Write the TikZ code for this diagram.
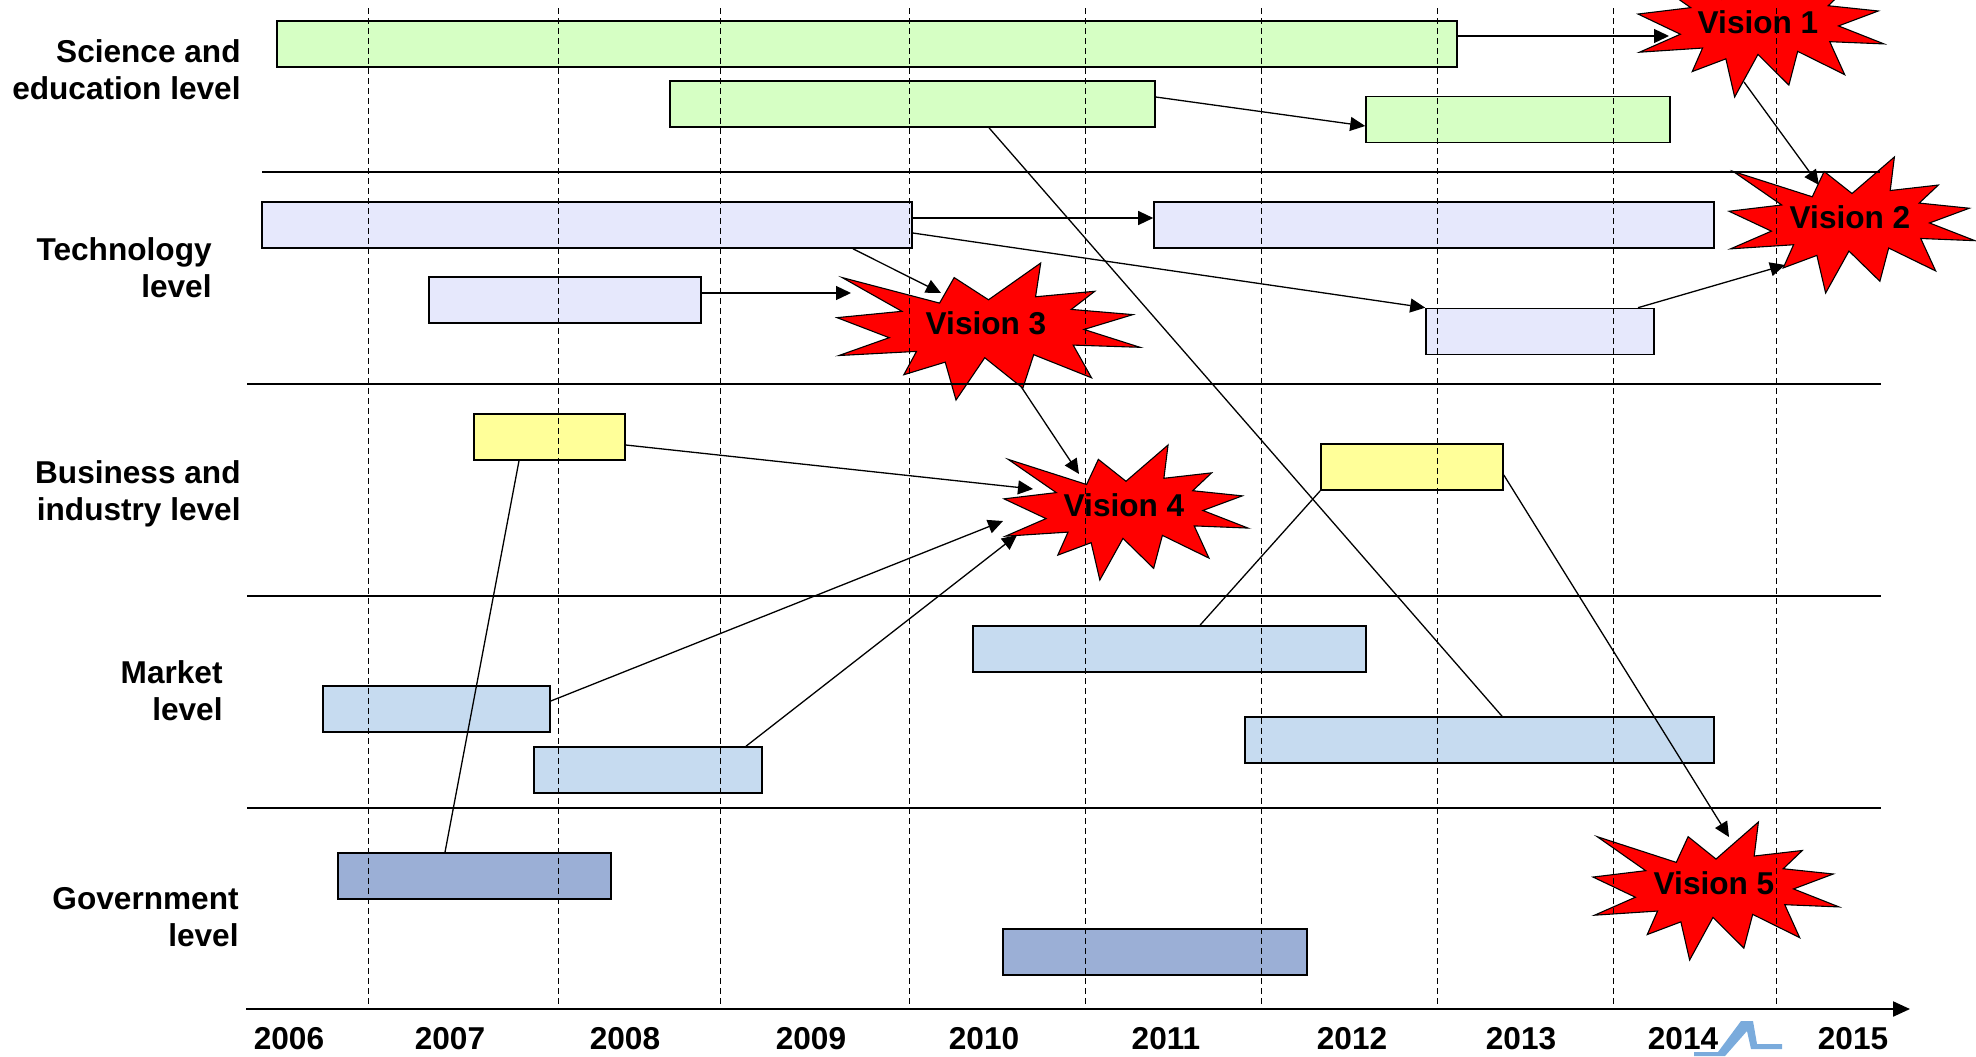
\documentclass[tikz,border=0pt]{standalone}
\usepackage{fontspec}
\setmainfont{Liberation Sans}
\usepackage{tikz}
\usetikzlibrary{arrows.meta,calc}

\definecolor{sciGreen}{RGB}{214,255,196}
\definecolor{techLav}{RGB}{230,232,252}
\definecolor{busYellow}{RGB}{255,255,153}
\definecolor{mktBlue}{RGB}{198,219,240}
\definecolor{govBlue}{RGB}{155,175,214}
\definecolor{logoBlue}{RGB}{122,171,220}

\tikzset{
  bar/.style={draw=black, line width=0.8pt, minimum height=23pt, inner sep=0pt},
  scibar/.style={bar, fill=sciGreen},
  techbar/.style={bar, fill=techLav},
  busbar/.style={bar, fill=busYellow},
  mktbar/.style={bar, fill=mktBlue},
  govbar/.style={bar, fill=govBlue},
  link/.style={line width=0.65pt, -{Triangle[length=7.5pt,width=7pt]}},
  tie/.style={line width=0.65pt},
  levelsep/.style={line width=0.9pt},
  yearline/.style={line width=0.5pt, dash pattern=on 3pt off 2pt},
  boldtext/.style={font=\fontsize{15.8}{18.5}\selectfont\bfseries, inner sep=0pt},
  lvllabel/.style={boldtext, align=right, anchor=east},
  yearlabel/.style={boldtext},
  vtext/.style={boldtext},
  visionstar/.pic={
    \draw[fill=red, line width=0.55pt, line join=miter]
      (0.5,0.2685) -- (0.6723,0) -- (0.6553,0.2465) -- (0.8509,0.2063) --
      (0.7732,0.3387) -- (0.9767,0.3767) -- (0.8151,0.4850) -- (1,0.6153) --
      (0.7795,0.5992) -- (0.8400,0.8377) -- (0.6491,0.6693) -- (0.6133,0.9138) --
      (0.4876,0.6914) -- (0.3928,1) -- (0.3572,0.7235) -- (0.2205,0.8156) --
      (0.2624,0.6452) -- (0.0063,0.6753) -- (0.1723,0.5451) -- (0,0.3988) --
      (0.2142,0.3526) -- (0.0171,0.1063) -- (0.3385,0.2926) -- (0.3867,0.1063) -- cycle;
  }
}

\begin{document}
\begin{tikzpicture}[x=0.5pt,y=0.5pt,yscale=-1,xscale=1]
\useasboundingbox (0,0) rectangle (1976,1056);
\clip (0,0) rectangle (1976,1056);

%Bars: science and education level
\node[scibar, minimum width=590pt] (sci1) at (867,44) {};
\node[scibar, minimum width=242.5pt] (sci2) at (912.5,104) {};
\node[scibar, minimum width=152pt] (sci3) at (1518,119.5) {};
%Bars: technology level
\node[techbar, minimum width=325pt] (tec1) at (587,225) {};
\node[techbar, minimum width=136pt] (tec2) at (565,300) {};
\node[techbar, minimum width=280pt] (tec3) at (1434,225) {};
\node[techbar, minimum width=114pt] (tec4) at (1540,331.5) {};
%Bars: business and industry level
\node[busbar, minimum width=75.5pt] (bus1) at (549.5,437) {};
\node[busbar, minimum width=91pt] (bus2) at (1412,467) {};
%Bars: market level
\node[mktbar, minimum width=113.5pt] (mkt1) at (436.5,709) {};
\node[mktbar, minimum width=114pt] (mkt2) at (648,770) {};
\node[mktbar, minimum width=196.5pt] (mkt3) at (1169.5,649) {};
\node[mktbar, minimum width=234.5pt] (mkt4) at (1479.5,740) {};
%Bars: government level
\node[govbar, minimum width=136.5pt] (gov1) at (474.5,876) {};
\node[govbar, minimum width=152pt] (gov2) at (1155,952) {};

%Ends of the arrows at the visions
\coordinate (v1in) at (1669,36);
\coordinate (v1out) at (1744,82);
\coordinate (v2in1) at (1819,185);
\coordinate (v2in2) at (1785,265);
\coordinate (v3in1) at (941,293);
\coordinate (v3in2) at (851,293);
\coordinate (v3out) at (1020,385);
\coordinate (v4in1) at (1079,474);
\coordinate (v4in2) at (1033,489);
\coordinate (v4in3) at (1003,521);
\coordinate (v4in4) at (1017,535);
\coordinate (v5in) at (1729,837);

%Connectors
\draw[link] (sci1.east |- v1in) -- (v1in);
\draw[link] ($(sci2.east)+(0,-7)$) -- ($(sci3.west)+(0,6.5)$);
\draw[tie] ($(sci2.south)+(76.5,0)$) -- ($(mkt4.north)+(22.5,0)$);
\draw[link] (v1out) -- (v2in1);
\draw[link] ($(tec1.east)+(0,-7)$) -- ($(tec3.west)+(0,-7)$);
\draw[link] ($(tec1.east)+(0,8)$) -- (tec4.north west);
\draw[link] ($(tec1.south)+(266,0)$) -- (v3in1);
\draw[link] ($(tec2.east)+(0,-7)$) -- (v3in2);
\draw[link] ($(tec4.north)+(98,0)$) -- (v2in2);
\draw[link] (v3out) -- (v4in1);
\draw[link] ($(bus1.east)+(0,8)$) -- (v4in2);
\draw[tie] ($(gov1.north)+(-29.5,0)$) -- ($(bus1.south)+(-30.5,0)$);
\draw[link] ($(mkt1.east)+(0,-8)$) -- (v4in3);
\draw[link] ($(mkt2.north)+(98,0)$) -- (v4in4);
\draw[tie] (bus2.south west) -- ($(mkt3.north)+(30.5,0)$);
\draw[link] ($(bus2.east)+(0,8)$) -- (v5in);

%Shape: Visions
\pic[xscale=246, yscale=-138] at (1638,-41) {visionstar};
\pic[xscale=246, yscale=-136] at (1729,157) {visionstar};
\pic[xscale=303, yscale=-137] at (837,263) {visionstar};
\pic[xscale=244, yscale=-135] at (1004,445) {visionstar};
\pic[xscale=246, yscale=-138] at (1593,822) {visionstar};
% Text Node
\node[vtext] (v1) at (1758,22) {Vision 1};
\node[vtext] (v2) at (1850,217) {Vision 2};
\node[vtext] (v3) at (986,323) {Vision 3};
\node[vtext] (v4) at (1124,505) {Vision 4};
\node[vtext] (v5) at (1714,883) {Vision 5};

%Shape: Level separators
\draw[levelsep] (262,172) -- (1880,172);
\draw[levelsep] (247,384) -- (1881,384);
\draw[levelsep] (247,596) -- (1881,596);
\draw[levelsep] (247,808) -- (1881,808);
%Shape: Year lines
\draw[yearline] (368,8) -- (368,1009);
\draw[yearline] (558,8) -- (558,1009);
\draw[yearline] (720,8) -- (720,1009);
\draw[yearline] (909,8) -- (909,1009);
\draw[yearline] (1085,8) -- (1085,1009);
\draw[yearline] (1261,8) -- (1261,1009);
\draw[yearline] (1437,8) -- (1437,1009);
\draw[yearline] (1613,8) -- (1613,1009);
\draw[yearline] (1776,8) -- (1776,1009);
%Straight Lines: time axis
\draw[line width=1.1pt, -{Triangle[length=8.5pt,width=7.5pt]}] (246,1009) -- (1910,1009);

% Text Node: years
\node[yearlabel] (yr2006) at (289,1039) {2006};
\node[yearlabel] (yr2007) at (450,1039) {2007};
\node[yearlabel] (yr2008) at (625,1039) {2008};
\node[yearlabel] (yr2009) at (811,1039) {2009};
\node[yearlabel] (yr2010) at (984,1039) {2010};
\node[yearlabel] (yr2011) at (1166,1039) {2011};
\node[yearlabel] (yr2012) at (1352,1039) {2012};
\node[yearlabel] (yr2013) at (1521,1039) {2013};
\node[yearlabel] (yr2014) at (1683,1039) {2014};
\node[yearlabel] (yr2015) at (1853,1039) {2015};

% Text Node: levels
\node[lvllabel] (lsci) at (241,69.5) {Science and\\education level};
\node[lvllabel] (ltec) at (212,268) {Technology\\level};
\node[lvllabel] (lbus) at (241,494) {Business and\\industry level};
\node[lvllabel] (lmkt) at (223,691) {Market\\level};
\node[lvllabel] (lgov) at (239,917.5) {Government\\level};

%Shape: logo corner
\fill[logoBlue] (1694,1052) -- (1718,1052) -- (1741,1021) -- (1753,1021) -- (1757,1044)
  -- (1782,1044) -- (1782,1049) -- (1751,1049) -- (1747,1031) -- (1725,1056) -- (1694,1056) -- cycle;

\end{tikzpicture}
\end{document}
